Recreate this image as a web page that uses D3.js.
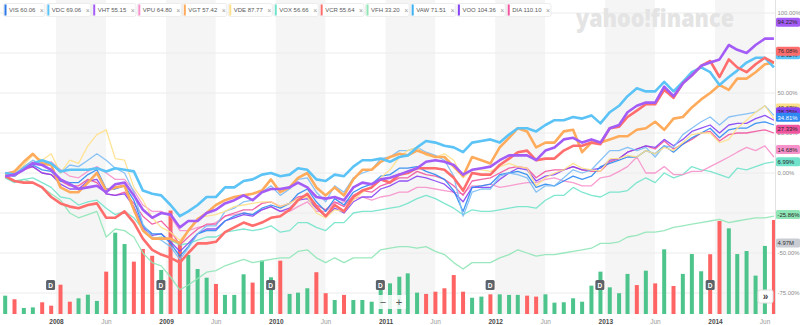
<!DOCTYPE html>
<html>
<head>
<meta charset="utf-8">
<script src="https://cdn.jsdelivr.net/npm/d3@7"></script>
<style>
  body { margin: 0; background: #fff; }
  svg { display: block; font-family: "Liberation Sans", Arial, sans-serif; }
</style>
</head>
<body>
<svg id="chart" width="800" height="325"></svg>
<script>
// ---- data ----------------------------------------------------------------
const symbols   = ["VIS", "VDC", "VHT", "VPU", "VGT", "VDE", "VOX", "VCR", "VFH", "VAW", "VOO", "DIA"];
const lastPrice = ["60.06", "69.06", "55.15", "64.80", "57.42", "87.77", "56.66", "55.64", "33.20", "71.51", "104.36", "110.10"];

// monthly % change, Jul 2007 .. Jul 2014
const VIS = [-1,-2,3,5,2,1,-5,-6,-6,-1, 2,-10,-10,-8,-17,-33,-38,-38,-44,-52, -46,-38,-36,-36,-30,-27,-25,-26,-22,-20,
  -22,-19,-13,-10,-18,-24,-16,-20,-12,-9, -7,-2,-1,3,3,4,1,-1,-4,-11, -24,-9,-8,-7,-1,0,1,-1,-9,-7,
  -8,-5,-2,-4,-2,4,6,8,10,10, 14,12,17,13,18,22,25,28,22,27, 28,28,31,32,30];
const VDC = [0,-1,3,6,8,6,1,2,2,2, 3,1,3,2,1,-11,-13,-14,-20,-27, -24,-20,-15,-15,-9,-9,-5,-4,-1,0,
  -2,-1,3,2,-4,-5,-1,-2,4,8, 8,9,7,10,11,16,20,19,17,16, 13,19,20,21,19,24,28,28,26,30,
  33,33,35,34,36,31,38,42,48,53, 51,51,57,51,57,63,66,63,55,60, 64,69,72,72,66];
const VHT = [-2,-1,2,6,5,2,-4,-7,-10,-9, -8,-12,-7,-6,-14,-23,-28,-25,-26,-34, -30,-30,-25,-23,-19,-17,-14,-17,-12,-10,
  -10,-9,-6,-9,-15,-16,-15,-17,-9,-6, -7,-4,-3,-1,1,3,7,8,7,5, -1,2,3,4,8,11,11,11,8,14,
  16,21,22,19,21,19,28,30,38,42, 44,44,54,48,56,61,67,69,71,80, 77,75,80,84,84];
const VPU = [0,1,4,7,6,7,2,-2,-3,1, 4,0,-4,-4,-11,-20,-24,-24,-27,-36, -36,-34,-33,-31,-27,-26,-25,-26,-23,-21,
  -24,-24,-21,-18,-24,-24,-19,-18,-16,-15, -17,-15,-14,-12,-12,-9,-9,-10,-11,-12, -13,-8,-8,-7,-9,-8,-7,-6,-6,-4,
  -3,-5,-6,-8,-8,-3,-2,1,4,10, 0,0,4,-1,-1,1,1,4,7,10, 13,16,14,17,10];
const VGT = [-1,1,7,12,6,5,-9,-12,-12,-6, 0,-11,-9,-8,-23,-36,-41,-41,-41,-44, -36,-29,-25,-20,-17,-15,-14,-13,-11,-4,
  -12,-9,-3,0,-9,-14,-9,-14,-4,2, 2,7,10,12,11,14,12,10,10,4, -2,10,8,6,16,22,28,26,16,19,
  19,26,27,13,19,19,21,23,23,27, 28,32,27,34,35,41,46,50,55,52, 59,59,63,68,69];
const VDE = [-1,0,5,11,8,12,0,8,6,17, 24,27,9,8,-9,-17,-28,-34,-37,-42, -36,-28,-27,-26,-24,-21,-20,-19,-18,-18,
  -21,-19,-16,-15,-25,-28,-23,-24,-17,-12, -9,-3,2,10,14,16,11,10,12,8, -3,2,2,1,4,6,4,3,-8,-3,
  0,2,6,3,2,1,9,9,11,10, 14,12,16,14,19,24,25,25,19,21, 28,33,38,42,34];
const VOX = [-3,-6,-4,-3,-6,-9,-15,-16,-20,-18, -17,-22,-26,-24,-28,-35,-41,-40,-42,-45, -44,-42,-40,-40,-37,-36,-35,-36,-35,-33,
  -37,-36,-31,-31,-34,-36,-31,-31,-25,-24, -24,-23,-22,-21,-19,-16,-14,-16,-19,-22, -26,-23,-24,-24,-23,-22,-21,-21,-22,-17,
  -14,-14,-9,-12,-14,-15,-12,-12,-11,-6, -3,-6,0,-3,-1,4,2,1,-1,-3, 3,2,4,6,7];
const VCR = [-2,-5,-6,-6,-9,-15,-19,-21,-22,-20, -19,-28,-28,-24,-31,-41,-48,-51,-53,-56, -50,-44,-44,-43,-37,-34,-31,-33,-31,-28,
  -27,-23,-17,-13,-21,-27,-20,-24,-15,-11, -9,-4,-6,-1,0,3,3,3,2,-3, -11,0,-1,-1,5,9,13,14,8,9,
  9,14,17,17,19,18,28,29,35,39, 43,43,52,47,56,61,67,70,60,71, 66,63,68,72,69];
const VFH = [-3,-5,-4,-6,-9,-13,-17,-25,-28,-26, -24,-40,-35,-36,-40,-50,-56,-58,-65,-73, -70,-66,-62,-61,-58,-56,-54,-56,-55,-54,
  -53,-53,-49,-48,-53,-56,-53,-56,-53,-53, -53,-48,-47,-46,-46,-47,-46,-49,-51,-56, -60,-56,-56,-56,-53,-51,-48,-50,-52,-51,
  -51,-50,-49,-48,-47,-44,-44,-43,-40,-39, -37,-37,-36,-34,-33,-32,-31,-30,-29,-31, -30,-29,-28,-28,-27];
const VAW = [0,-2,4,8,5,6,0,5,4,8, 12,8,3,0,-12,-32,-40,-42,-46,-54, -47,-38,-33,-33,-24,-22,-18,-17,-12,-8,
  -14,-10,-4,-3,-12,-18,-8,-12,-3,0, 2,9,10,14,14,16,13,11,8,-2, -27,-12,-10,-10,-2,0,-1,-3,-12,-8,
  -8,-3,2,0,2,8,14,14,16,14, 16,10,17,16,24,28,32,35,30,35, 36,37,38,42,36];
const VOO = [-1,-1,3,4,0,-1,-7,-10,-10,-5, -4,-13,-14,-13,-21,-34,-39,-38,-43,-49, -44,-38,-35,-35,-30,-28,-26,-27,-23,-21,
  -24,-22,-17,-16,-22,-27,-22,-25,-18,-15, -15,-10,-8,-5,-5,-2,-3,-5,-7,-12, -18,-9,-9,-9,-4,0,3,2,-5,-2,
  -1,2,4,2,2,3,8,9,13,15, 17,16,21,17,21,26,28,30,25,30, 31,31,34,36,33];
const DIA = [-1,-2,2,4,0,-1,-5,-8,-8,-4, -6,-13,-14,-12,-19,-27,-32,-30,-36,-45, -40,-35,-32,-32,-27,-25,-23,-23,-19,-18,
  -21,-19,-15,-14,-20,-23,-18,-21,-14,-11, -12,-8,-6,-3,-3,1,-1,-2,-4,-8, -14,-5,-4,-3,0,3,4,3,-3,1,
  2,2,4,2,1,1,7,9,13,15, 17,15,20,15,18,21,25,26,20,24, 25,25,26,27,25];

// monthly volume (millions) and whether the month closed up
const volume = [0.97,0.78,0.32,0.35,0.62,0.44,1.55,0.65,0.83,1.02, 0.69,2.24,4.30,3.70,2.77,3.44,3.08,2.33,5.47,3.83,
  3.12,2.38,1.92,1.59,1.01,1.01,2.10,1.66,2.82,1.94, 2.82,1.06,1.13,1.36,2.21,1.10,0.74,1.01,0.74,0.74,
  0.65,1.59,1.62,1.97,2.15,1.13,1.06,1.18,1.36,2.06, 1.18,0.86,0.92,1.04,1.04,1.01,1.01,0.97,0.92,1.04,
  0.60,0.62,0.83,0.65,1.50,2.24,1.41,1.10,2.12,1.53, 2.29,1.62,3.42,1.48,2.12,3.17,2.26,3.16,4.92,4.53,
  3.17,3.33,2.03,3.60,4.97];
const volumeUp = [1,0,1,1,0,0,0,0,1,1, 1,0,1,1,0,0,0,1,0,0, 1,1,1,0,1,1,1,0,1,1,
  0,1,1,1,0,0,1,0,1,1, 1,1,1,1,1,1,0,0,0,0, 0,1,1,0,1,1,1,0,0,1,
  1,1,1,1,1,1,1,1,1,0, 1,0,1,0,1,1,1,0,0,1, 1,1,1,1,0];

const pctTicks  = [-75, -50, -25, 0, 25, 50, 75, 100];
const years     = [2008, 2009, 2010, 2011, 2012, 2013, 2014];
const dividends = ["2007-12-14", "2008-12-15", "2009-12-15", "2010-12-15", "2011-12-15", "2012-12-14", "2013-12-16"];
const latestVolume = "4.97M";

// latest value tags on the right edge (drawn in this order)
const tagSymbols = ["VHT", "VDC", "VCR", "VDE", "VOO", "VIS", "DIA", "VPU", "VOX", "VFH"];
const tagValues  = [94.22, 73.92, 76.08, 40.63, 38.35, 34.81, 27.33, 14.68, 6.99, -25.86];

// ---- styling -------------------------------------------------------------
const colors = {
  VIS: "#2e8af2", VDC: "#5cc3f6", VHT: "#a45cf6", VPU: "#f792cb", VGT: "#ffab5c", VDE: "#ffe08a",
  VOX: "#72e3cb", VCR: "#ff6d6d", VFH: "#8fe6b6", VAW: "#7cbcf4", VOO: "#8643f4", DIA: "#f0559f"
};
const legendColors = Object.assign({}, colors, { VAW: "#3cb0f2", VIS: "#2a78e8" });
const thick = new Set(["VDC", "VHT", "VGT", "VCR"]);
const drawOrder = ["VFH", "VOX", "VPU", "DIA", "VOO", "VIS", "VAW", "VDE", "VGT", "VDC", "VCR", "VHT"];
const seriesData = { VIS, VDC, VHT, VPU, VGT, VDE, VOX, VCR, VFH, VAW, VOO, DIA };

// ---- geometry ------------------------------------------------------------
const plotRight = 775, plotBottom = 314;
const svg = d3.select("#chart");

const start = new Date(2007, 6, 16);
const dates = d3.range(volume.length).map(i => d3.timeMonth.offset(start, i));

const x = d3.scaleTime()
  .domain([new Date(2008, 0, 1), new Date(2014, 0, 1)])
  .range([56, 715]);
const y = d3.scaleLinear().domain([-75, 100]).range([293, 13]);
const yVol = d3.scaleLinear().domain([0, 5.5]).range([plotBottom, plotBottom - 104]);

svg.append("defs").append("clipPath").attr("id", "plotClip")
  .append("rect").attr("x", 0).attr("y", 0).attr("width", plotRight).attr("height", plotBottom);

// alternating half-year shading
const bandG = svg.append("g").attr("clip-path", "url(#plotClip)");
bandG.selectAll("rect").data(years).join("rect")
  .attr("x", d => x(new Date(d, 0, 1)))
  .attr("width", d => x(new Date(d, 5, 15)) - x(new Date(d, 0, 1)))
  .attr("y", 0).attr("height", plotBottom)
  .attr("fill", "#f5f5f5");

// horizontal grid
svg.append("g").selectAll("line").data(pctTicks).join("line")
  .attr("x1", 0).attr("x2", plotRight)
  .attr("y1", d => y(d)).attr("y2", d => y(d))
  .attr("stroke", "#ececec").attr("stroke-width", 1);

// watermark
svg.append("text")
  .attr("x", 576).attr("y", 27)
  .attr("textLength", 158).attr("lengthAdjust", "spacingAndGlyphs")
  .style("font-family", "'Open Sans', sans-serif")
  .style("font-weight", 800).style("font-size", "24px")
  .attr("fill", "#e4e4e4")
  .text("yahoo!finance");

// right plot edge
svg.append("line").attr("x1", plotRight + 0.5).attr("x2", plotRight + 0.5)
  .attr("y1", 0).attr("y2", plotBottom).attr("stroke", "#e2e2e2");

// volume bars
svg.append("g").attr("clip-path", "url(#plotClip)")
  .selectAll("rect").data(volume).join("rect")
  .attr("x", (d, i) => x(dates[i]) - 2)
  .attr("width", 4)
  .attr("y", d => yVol(d))
  .attr("height", d => plotBottom - yVol(d))
  .attr("fill", (d, i) => volumeUp[i] ? "#4cc48b" : "#ff6464");

// comparison lines
const line = d3.line()
  .x((d, i) => x(dates[i]))
  .y(d => y(d));
const lineG = svg.append("g").attr("clip-path", "url(#plotClip)");
drawOrder.forEach(sym => {
  lineG.append("path")
    .datum(seriesData[sym])
    .attr("d", line)
    .attr("fill", "none")
    .attr("stroke", colors[sym])
    .attr("stroke-width", thick.has(sym) ? 2.6 : 1.3)
    .attr("stroke-linejoin", "round")
    .attr("stroke-opacity", thick.has(sym) ? 1 : 0.9);
});

// dividend markers
const divG = svg.append("g");
dividends.forEach(ds => {
  const cx = x(new Date(ds + "T00:00:00"));
  divG.append("rect").attr("x", cx - 4.5).attr("y", 280).attr("width", 9).attr("height", 10)
    .attr("rx", 1.5).attr("fill", "#5d6168");
  divG.append("text").attr("x", cx).attr("y", 287.6).attr("text-anchor", "middle")
    .attr("fill", "#fff").style("font-size", "6.5px").style("font-weight", 700).text("D");
});

// zoom controls
const zc = svg.append("g");
zc.append("rect").attr("x", 376).attr("y", 295).attr("width", 30).attr("height", 14)
  .attr("fill", "#fff").attr("fill-opacity", 0.85);
zc.append("text").attr("x", 383).attr("y", 305.5).attr("text-anchor", "middle")
  .attr("fill", "#555").style("font-size", "11px").text("\u2212");
zc.append("text").attr("x", 399).attr("y", 305.5).attr("text-anchor", "middle")
  .attr("fill", "#555").style("font-size", "11px").text("+");

// scroll-to-latest button
svg.append("rect").attr("x", 758).attr("y", 290).attr("width", 15).attr("height", 13).attr("rx", 2)
  .attr("fill", "#fff").attr("stroke", "#dedede");
svg.append("text").attr("x", 765.5).attr("y", 300).attr("text-anchor", "middle")
  .attr("fill", "#444").style("font-size", "10px").style("font-weight", 700).text("\u00bb");

// bottom time axis
const tickDates = [];
years.forEach(yr => { tickDates.push(new Date(yr, 0, 1)); tickDates.push(new Date(yr, 5, 15)); });
const xAxis = svg.append("g").attr("transform", `translate(0,${plotBottom})`)
  .call(d3.axisBottom(x).tickValues(tickDates).tickSize(0).tickPadding(5)
    .tickFormat(d => d.getMonth() === 0 ? String(d.getFullYear()) : "Jun"));
xAxis.select(".domain").remove();
xAxis.selectAll("text")
  .style("font-family", "'Liberation Sans', Arial, sans-serif")
  .style("font-size", "6.5px")
  .attr("fill", d => d.getMonth() === 0 ? "#4a4a4a" : "#9a9a9a")
  .style("font-weight", d => d.getMonth() === 0 ? 700 : 400);

// right percentage axis
const yAxis = svg.append("g").attr("transform", `translate(${plotRight},0)`)
  .call(d3.axisRight(y).tickValues(pctTicks).tickSize(0).tickPadding(2.5)
    .tickFormat(d => d.toFixed(2) + "%"));
yAxis.select(".domain").remove();
yAxis.selectAll("text")
  .style("font-family", "'Liberation Sans', Arial, sans-serif")
  .style("font-size", "5.9px").attr("fill", "#8a8a8a");

// latest value tags
const tagG = svg.append("g");
tagSymbols.forEach((sym, k) => {
  const v = tagValues[k];
  const cy = y(v);
  tagG.append("rect").attr("x", 776).attr("y", cy - 4.5).attr("width", 24).attr("height", 9)
    .attr("rx", 1.5).attr("fill", colors[sym]);
  tagG.append("text").attr("x", 777.5).attr("y", cy + 2.2)
    .attr("fill", sym === "VIS" ? "#fff" : "#2a2a2a")
    .style("font-size", "5.9px")
    .text(v.toFixed(2) + "%");
});

// latest volume tag
tagG.append("rect").attr("x", 776).attr("y", 238.5).attr("width", 24).attr("height", 9)
  .attr("rx", 1.5).attr("fill", "#c9ccd3");
tagG.append("text").attr("x", 777.5).attr("y", 245.2).attr("fill", "#333")
  .style("font-size", "5.9px").text(latestVolume);

// legend chips
const legend = svg.append("g");
let lx = 3.5;
symbols.forEach((sym, k) => {
  const g = legend.append("g");
  const box = g.append("rect").attr("x", lx).attr("y", 3.5).attr("height", 13).attr("rx", 2)
    .attr("fill", "#fff").attr("stroke", "#e8e8e8").attr("stroke-width", 0.8);
  g.append("rect").attr("x", lx + 1).attr("y", 4.5).attr("width", 2).attr("height", 11)
    .attr("fill", legendColors[sym]);
  const t = g.append("text").attr("x", lx + 5.5).attr("y", 12.3)
    .attr("fill", "#5a5a5a").style("font-size", "6px")
    .text(sym + " " + lastPrice[k]);
  const tw = t.node().getComputedTextLength();
  g.append("text").attr("x", lx + 5.5 + tw + 4.5).attr("y", 12.6)
    .attr("fill", "#9a9a9a").style("font-size", "7px").text("\u00d7");
  const w = tw + 15;
  box.attr("width", w);
  lx += w + 1.5;
});
</script>
</body>
</html>
